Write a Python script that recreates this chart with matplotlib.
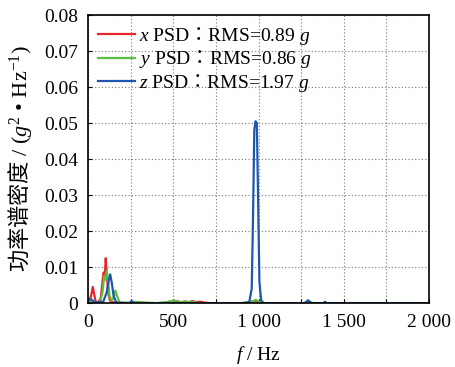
import matplotlib
matplotlib.use('Agg')
import matplotlib.pyplot as plt
from matplotlib.ticker import MultipleLocator, FixedLocator, FuncFormatter

plt.rcParams['font.family'] = ['Liberation Serif', 'Noto Sans CJK TC']
plt.rcParams['mathtext.fontset'] = 'custom'
plt.rcParams['mathtext.rm'] = 'Liberation Serif'
plt.rcParams['mathtext.it'] = 'Liberation Serif:italic'
plt.rcParams['mathtext.sf'] = 'Noto Sans CJK TC'

# frequency (Hz) / PSD (g^2/Hz) points
fx = [0, 10, 20, 28, 36, 45, 60, 75, 85, 92, 98, 104, 110, 118, 128, 140, 160, 200,
      300, 460, 480, 500, 520, 545, 570, 595, 610, 630, 660, 690, 720, 900,
      965, 980, 990, 1005, 1100, 1500, 2000]
px = [0.0008, 0.0004, 0.0025, 0.0045, 0.0025, 0.0004, 0.0002, 0.0015, 0.006, 0.0085, 0.007,
      0.0125, 0.008, 0.003, 0.0008, 0.0003, 0.0001, 0.0001,
      0.0, 0.0, 0.0005, 0.0003, 0.0006, 0.0002, 0.0005, 0.0001, 0.0006, 0.0003, 0.0004, 0.0001, 0.0, 0.0,
      0.0, 0.0008, 0.0004, 0.0, 0.0, 0.0, 0.0]

fy = [0, 8, 15, 30, 50, 70, 85, 95, 102, 110, 118, 126, 138, 150, 160, 170, 185, 250,
      260, 400, 480, 505, 525, 560, 600, 650, 900, 970, 985, 1000, 1020,
      1280, 1300, 1320, 1500, 2000]
py = [0.0015, 0.001, 0.0005, 0.0002, 0.0001, 0.0003, 0.003, 0.0075, 0.0065, 0.009, 0.006,
      0.002, 0.0008, 0.0015, 0.0035, 0.002, 0.0002, 0.0,
      0.0004, 0.0, 0.0004, 0.0008, 0.0004, 0.0003, 0.0004, 0.0, 0.0, 0.0006, 0.0009, 0.0005, 0.0,
      0.0, 0.0004, 0.0, 0.0, 0.0]

fz = [0, 10, 25, 40, 60, 90, 110, 122, 130, 140, 150, 165, 200, 245, 255, 270,
      500, 900, 945, 960, 968, 975, 982, 990, 997, 1005, 1015, 1030,
      1270, 1290, 1310, 1380, 1390, 1400, 2000]
pz = [0.0005, 0.0012, 0.0008, 0.0003, 0.0002, 0.0005, 0.003, 0.0065, 0.008, 0.0055, 0.002,
      0.0002, 0.0, 0.0, 0.0006, 0.0,
      0.0, 0.0, 0.0002, 0.004, 0.025, 0.048, 0.0505, 0.05, 0.03, 0.006, 0.0008, 0.0,
      0.0, 0.0008, 0.0, 0.0, 0.0004, 0.0, 0.0]

labels = [r'$\it{x}$ PSD$\mathsf{：}$RMS=0.89 $\it{g}$',
          r'$\it{y}$ PSD$\mathsf{：}$RMS=0.86 $\it{g}$',
          r'$\it{z}$ PSD$\mathsf{：}$RMS=1.97 $\it{g}$']
colors = ['#e8262a', '#5bbf3f', '#1f57b0']

xticks = [0, 500, 1000, 1500, 2000]
xticklabels = ['0', '500', '1 000', '1 500', '2 000']

fig = plt.figure(figsize=(4.56, 3.67), dpi=100)
ax = fig.add_axes([0.193, 0.174, 0.748, 0.785])
ax.plot(fx, px, color=colors[0], lw=1.6, label=labels[0])
ax.plot(fy, py, color=colors[1], lw=1.6, label=labels[1])
ax.plot(fz, pz, color=colors[2], lw=1.6, label=labels[2])

ax.set_xlim(0, 2000)
ax.set_ylim(0, 0.08)
ax.xaxis.set_major_locator(FixedLocator(xticks))
ax.set_xticklabels(xticklabels)
ax.xaxis.set_minor_locator(MultipleLocator(250))
ax.yaxis.set_major_locator(MultipleLocator(0.01))
ax.yaxis.set_major_formatter(FuncFormatter(lambda v, p: '0' if abs(v) < 1e-9 else '%.2f' % v))
ax.grid(True, which='both', ls=(0, (1, 2)), color='#777777', lw=0.8)
ax.tick_params(which='both', direction='in', length=3, labelsize=14, width=0.8)
ax.tick_params(axis='x', pad=8)
ax.tick_params(axis='y', pad=7)
for s in ax.spines.values():
    s.set_linewidth(1.2)

ax.set_xlabel(r'$\it{f}$ / Hz', fontsize=14, labelpad=9)
ax.set_ylabel(r'$\mathsf{功率谱密度}$ / ($\it{g}^2$ • Hz$^{-1}$)', fontsize=16, labelpad=7)

leg = ax.legend(loc='upper left', frameon=False, fontsize=14, handlelength=1.9,
                handletextpad=0.2, borderaxespad=0.2, labelspacing=0.08,
                borderpad=0.3)

fig.savefig('out.png')
